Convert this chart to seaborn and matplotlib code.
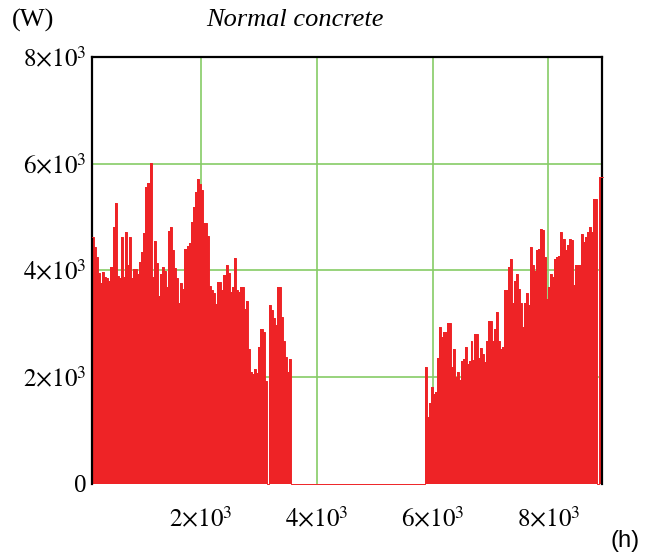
import matplotlib
matplotlib.use("Agg")
import matplotlib.pyplot as plt
import numpy as np
import pandas as pd
import seaborn as sns

# heating load (W), one step about every 35 h
early_season_load = [
    4633, 4446, 4258, 3946, 3771, 3971, 3883, 3858, 3808, 4058,
    4808, 5259, 3896, 3858, 4633, 3883, 4721, 4102, 4633, 3858,
    4021, 4021, 3933, 4165, 4346, 4709, 5572, 5634, 6009, 3871,
    4558, 4133, 3521, 3933, 4058, 3996, 3696, 4734, 4808, 4383,
    4039, 3852, 3395, 3758, 3646, 4396, 4465, 4508, 4909, 5184,
    5471, 5722, 5622, 5509, 4896, 4884, 4646, 3708, 3633, 3583,
    3370, 3789, 3789, 3633, 3914, 4096, 3946, 3602, 3683, 4227,
    3633, 3602, 3696, 3683, 3270, 3433, 2520, 2101, 2057, 2145,
    2070, 2558, 2895, 2845, 1932, 0, 3352, 3258, 3102, 2970,
    3683, 3683, 3133, 2683, 2383, 2101, 2345,
]
late_season_load = [
    2182, 1244, 1507, 1807, 1682, 1726, 2351, 2933, 2758, 2845,
    2845, 3008, 3008, 2195, 2520, 2007, 2101, 1945, 2307, 2332,
    2558, 2245, 2307, 2683, 2320, 2808, 2808, 2351, 2545, 2433,
    2289, 2683, 3058, 3058, 2683, 2895, 3220, 2683, 2520, 2570,
    3633, 3633, 4058, 4221, 3395, 3808, 3933, 3646, 3395, 2933,
    3395, 3583, 3352, 4433, 4096, 3996, 4383, 4408, 4771, 4759,
    4258, 3458, 3683, 3933, 3871, 4221, 4258, 4271, 4721, 4446,
    4583, 4383, 4477, 4583, 4571, 3727, 4096, 4096, 4096, 4684,
    4533, 4633, 4721, 4808, 4721, 5346, 5334, 0, 5759, 5759,
]
# season boundaries (h)
early_start, early_end = 117, 3560
late_start, late_end = 5870, 8946

x_ticks = [2000, 4000, 6000, 8000]
y_ticks = [0, 2000, 4000, 6000, 8000]

RED = "#ee2326"
GRID = "#86cc66"


def tick_text(v):
    if v == 0:
        return "0"
    return r"$%d{\times}10^{3}$" % (v // 1000)


def build_frame():
    h_early = np.linspace(early_start, early_end, len(early_season_load) + 1)
    h_late = np.linspace(late_start, late_end, len(late_season_load) + 1)
    hours = np.concatenate([h_early, h_late])
    load = early_season_load + [0] + late_season_load + [late_season_load[-1]]
    return pd.DataFrame({"hour": hours, "load": load})


def main():
    sns.set_theme(style="white")
    plt.rcParams["font.family"] = ["Liberation Serif", "DejaVu Serif"]
    plt.rcParams["mathtext.fontset"] = "stix"
    plt.rcParams["text.color"] = "black"

    df = build_frame()

    fig = plt.figure(figsize=(6.59, 5.6), dpi=100)
    ax = fig.add_axes([0.1396, 0.1363, 0.7735, 0.7614])

    ax.set_axisbelow(True)
    for v in x_ticks:
        ax.axvline(v, color=GRID, lw=1.2, zorder=0)
    for v in y_ticks[1:-1]:
        ax.axhline(v, color=GRID, lw=1.2, zorder=0)

    ax.fill_between(df["hour"], df["load"], step="post", color=RED, lw=0, zorder=2)
    sns.lineplot(
        data=df, x="hour", y="load", drawstyle="steps-post",
        color=RED, lw=0.7, estimator=None, sort=False, ax=ax, zorder=3,
        clip_on=False,
    )

    ax.set_xlim(117, 8923)
    ax.set_ylim(0, 8000)
    ax.set_xticks(x_ticks)
    ax.set_xticklabels([tick_text(v) for v in x_ticks], fontsize=18)
    ax.set_yticks(y_ticks)
    ax.set_yticklabels([tick_text(v) for v in y_ticks], fontsize=18)
    ax.tick_params(axis="both", length=0, colors="black")
    ax.tick_params(axis="x", pad=17)
    ax.tick_params(axis="y", pad=4)
    ax.set_xlabel("")
    ax.set_ylabel("")

    for side in ["top", "left", "right"]:
        ax.spines[side].set_color("black")
        ax.spines[side].set_linewidth(1.6)
    ax.spines["bottom"].set_visible(False)

    fig.text(12 / 659, 1 - 20 / 560, "(W)", fontsize=19, va="center", ha="left")
    fig.text(206 / 659, 1 - 20 / 560, "Normal concrete", fontsize=19,
             style="italic", va="center", ha="left")
    fig.text(611 / 659, 1 - 541 / 560, "(h)", fontsize=17, va="center",
             ha="left", family=["Liberation Sans", "DejaVu Sans"])

    fig.savefig("out.png", dpi=100)
    plt.close(fig)


if __name__ == "__main__":
    main()
